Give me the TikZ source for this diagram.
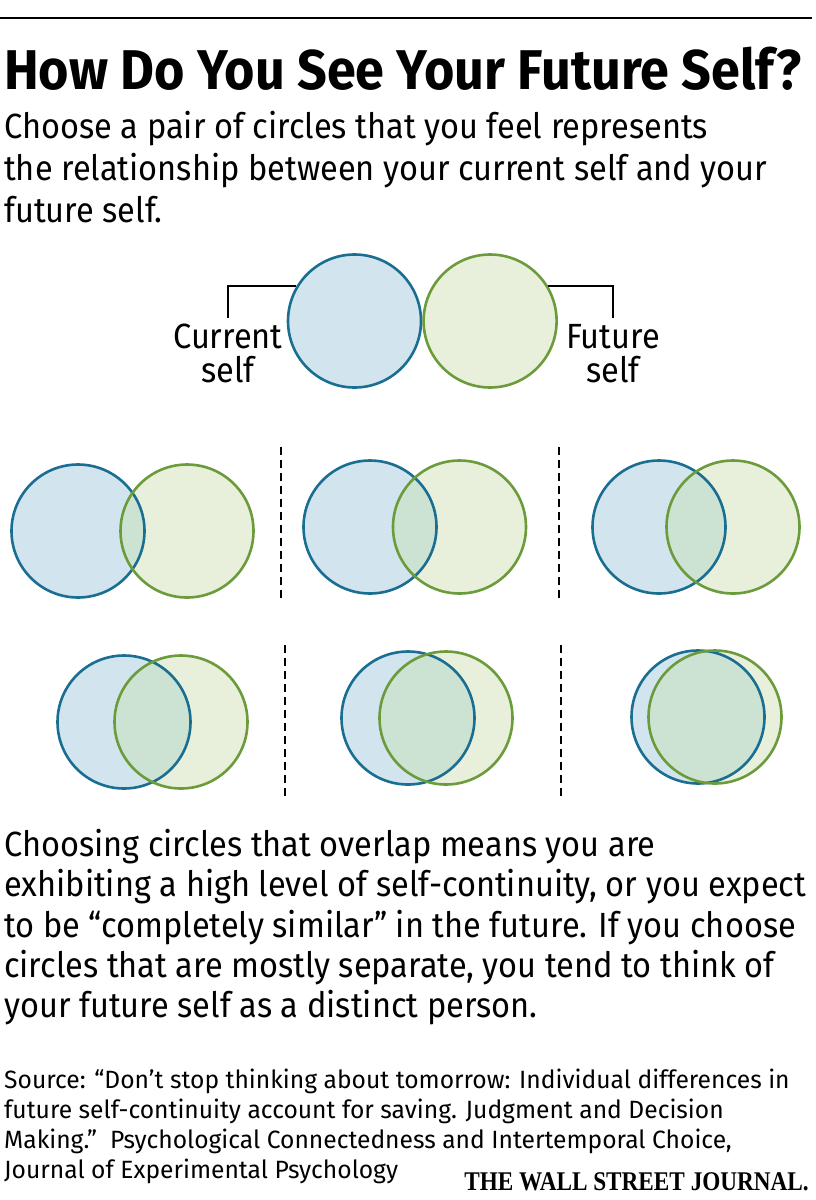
\documentclass[tikz,border=0pt]{standalone}
\usepackage{fontspec}
\setmainfont{Fira Sans}[FakeStretch=0.93]
\newfontfamily\headfont{Fira Sans}[FakeStretch=0.93]
\newfontfamily\srcfont{Fira Sans}[FakeStretch=0.985]
\newfontfamily\logofont{Liberation Serif}[FakeStretch=0.86]
\usetikzlibrary{positioning}

\definecolor{blueline}{RGB}{26,110,145}
\definecolor{bluefill}{RGB}{210,228,238}
\definecolor{greenline}{RGB}{107,155,58}
\definecolor{greenfill}{RGB}{232,240,219}
\definecolor{bothfill}{RGB}{204,227,211}

\tikzset{
  selfcur/.style={circle, draw=blueline, fill=bluefill, line width=2.6pt,
    minimum size=133pt, inner sep=0pt},
  selffut/.style={circle, draw=greenline, fill=greenfill, line width=2.6pt,
    minimum size=133pt, inner sep=0pt},
  ring/.style={line width=2.6pt},
  divider/.style={line width=2.4pt, dash pattern=on 8pt off 5pt},
  bracket/.style={line width=2pt, shorten <=6pt},
  headline/.style={font=\headfont\bfseries\fontsize{56}{60}\selectfont, inner sep=0pt},
  bodytext/.style={font=\fontsize{35}{40}\selectfont, inner sep=0pt},
  sidelabel/.style={font=\fontsize{35}{34}\selectfont, align=center, inner sep=0pt},
  sourcetext/.style={font=\srcfont\fontsize{25}{30}\selectfont, inner sep=0pt},
  logo/.style={font=\logofont\bfseries\fontsize{27}{30}\selectfont, inner sep=0pt}
}

\begin{document}
\begin{tikzpicture}[x=1pt, y=-1pt]
\useasboundingbox (0,0) rectangle (816,1200);

% rule and headline
\draw[line width=2.8pt] (0,18) -- (812,18);
\node[headline, anchor=base west] (title) at (4,89) {How Do You See Your Future Self?};
\node[bodytext, anchor=base west] (intro1) at (4,138) {Choose a pair of circles that you feel represents};
\node[bodytext, anchor=base west] (intro2) at (4,180) {the relationship between your current self and your};
\node[bodytext, anchor=base west] (intro3) at (4,222) {future self.};

% the two selves
\node[selfcur] (cur) at (354.5,321) {};
\node[selffut, right=0pt of cur] (fut) {};
\node[sidelabel, anchor=north] (curlbl) at (228,324) {Current\\self};
\node[sidelabel, anchor=north] (futlbl) at (613,324) {Future\\self};
\draw[bracket] (curlbl.north) |- (cur.149);
\draw[bracket] (futlbl.north) |- (fut.31);

% six pairs
\foreach \bx/\gx/\cy in {78/187/531, 370/459.5/527, 659/733/527,
                         124/181/722, 408/446/718, 698/715/717}{
  \fill[bluefill] (\bx,\cy) circle[radius=66.5pt];
  \fill[greenfill] (\gx,\cy) circle[radius=66.5pt];
  \begin{scope}
    \clip (\bx,\cy) circle[radius=66.5pt];
    \fill[bothfill] (\gx,\cy) circle[radius=66.5pt];
  \end{scope}
  \draw[ring, blueline] (\bx,\cy) circle[radius=66.5pt];
  \draw[ring, greenline] (\gx,\cy) circle[radius=66.5pt];
}
\draw[divider] (281,447) -- (281,600);
\draw[divider] (559,447) -- (559,600);
\draw[divider] (285,645) -- (285,798);
\draw[divider] (561,645) -- (561,798);

% explanation
\node[bodytext, anchor=base west] (expl1) at (4,856) {Choosing circles that overlap means you are};
\node[bodytext, anchor=base west] (expl2) at (4,896.5) {exhibiting a high level of self-continuity, or you expect};
\node[bodytext, anchor=base west] (expl3) at (4,937) {to be “completely similar” in the future. If you choose};
\node[bodytext, anchor=base west] (expl4) at (4,977) {circles that are mostly separate, you tend to think of};
\node[bodytext, anchor=base west] (expl5) at (4,1017.5) {your future self as a distinct person.};

% source
\node[sourcetext, anchor=base west] (src1) at (4,1088) {Source: “Don’t stop thinking about tomorrow: Individual differences in};
\node[sourcetext, anchor=base west] (src2) at (4,1118) {future self-continuity account for saving. Judgment and Decision};
\node[sourcetext, anchor=base west] (src3) at (4,1148) {Making.”\ \ Psychological Connectedness and Intertemporal Choice,};
\node[sourcetext, anchor=base west] (src4) at (4,1178) {Journal of Experimental Psychology};
\node[logo, anchor=base east] (wsj) at (809,1190) {THE WALL STREET JOURNAL.};
\end{tikzpicture}
\end{document}
